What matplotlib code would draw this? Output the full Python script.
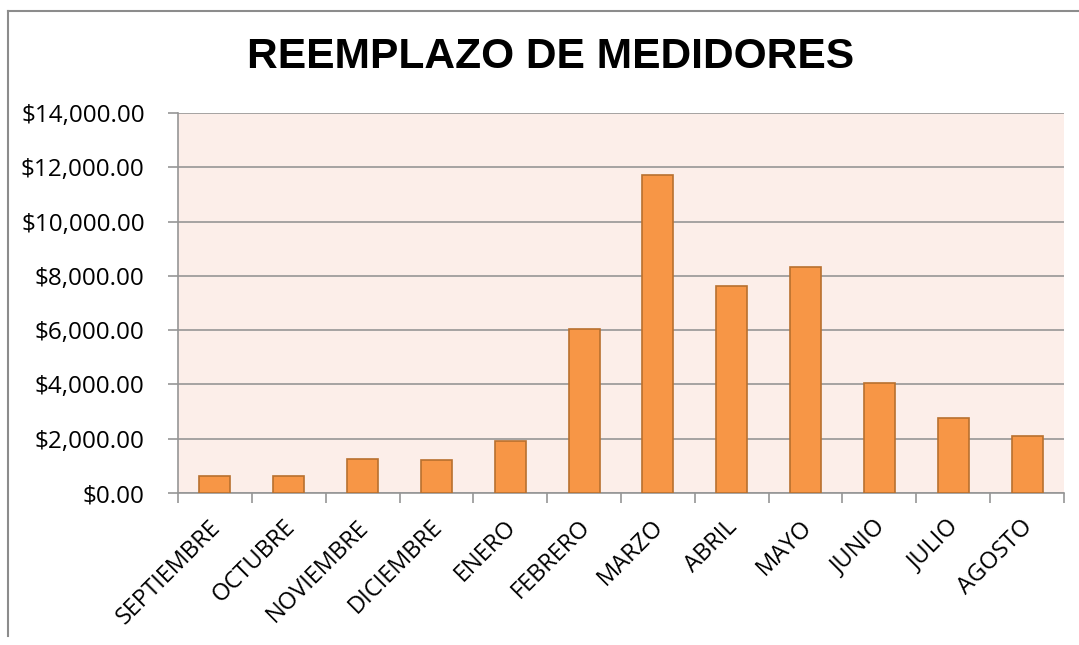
import matplotlib.pyplot as plt
import matplotlib.transforms as mtransforms
import numpy as np
from matplotlib.lines import Line2D
from matplotlib.ticker import FuncFormatter

MONTHS = ["SEPTIEMBRE", "OCTUBRE", "NOVIEMBRE", "DICIEMBRE", "ENERO", "FEBRERO",
          "MARZO", "ABRIL", "MAYO", "JUNIO", "JULIO", "AGOSTO"]
AMOUNTS = [620, 620, 1270, 1210, 1920, 6030, 11710, 7620, 8330, 4060, 2780, 2090]
Y_TICKS = [0, 2000, 4000, 6000, 8000, 10000, 12000, 14000]
TITLE = "REEMPLAZO DE MEDIDORES"

BAR_COLOR  = "#F79646"
EDGE_COLOR = "#B8702F"
BG_COLOR   = "#FCEEE9"
GRID_COLOR = "#969696"

W, H = 1079, 645
fig = plt.figure(figsize=(W / 100, H / 100), dpi=100)

# plot area in pixels: left 178, right 1064, top 113, bottom 493
ax = fig.add_axes([178 / W, 1 - 493 / H, (1064 - 178) / W, (493 - 113) / H])
ax.set_facecolor(BG_COLOR)

x = np.arange(len(MONTHS))
ax.bar(x, AMOUNTS, width=0.42, color=BAR_COLOR, edgecolor=EDGE_COLOR,
       linewidth=1.2, zorder=3)

ax.set_xlim(-0.5, len(MONTHS) - 0.5)
ax.set_ylim(0, 14000)
ax.set_yticks(Y_TICKS)
ax.yaxis.set_major_formatter(FuncFormatter(lambda v, p: f"${v:,.2f}"))
ax.grid(axis="y", color=GRID_COLOR, linewidth=1.2, zorder=1)

ax.set_xticks(x)
ax.set_xticklabels(MONTHS, rotation=45, ha="right", rotation_mode="anchor",
                   fontsize=17, family="Open Sans")
ax.set_xticks(np.arange(-0.5, len(MONTHS)), minor=True)
ax.tick_params(axis="x", which="major", length=0, pad=16)
ax.tick_params(axis="x", which="minor", length=7, color=GRID_COLOR, width=1.2)
ax.tick_params(axis="y", length=7, color=GRID_COLOR, width=1.2, pad=17,
               labelsize=17.5)
for lab in ax.get_yticklabels():
    lab.set_family("Open Sans")

# nudge month labels a little to the left
shift = mtransforms.ScaledTranslation(-6 / 100, 0, fig.dpi_scale_trans)
for lab in ax.get_xticklabels():
    lab.set_transform(lab.get_transform() + shift)

for side in ("top", "right"):
    ax.spines[side].set_visible(False)
for side in ("left", "bottom"):
    ax.spines[side].set_color(GRID_COLOR)
    ax.spines[side].set_linewidth(1.2)

fig.text(551 / W, 1 - 57 / H, TITLE, ha="center", va="center",
         fontsize=30.6, fontweight="bold", family="Liberation Sans")

# outer chart frame (top and left edges visible)
fig.add_artist(Line2D([8 / W, 1], [1 - 10.5 / H, 1 - 10.5 / H],
                      transform=fig.transFigure, color="#8c8c8c", linewidth=1.5))
fig.add_artist(Line2D([8 / W, 8 / W], [1 - 10.5 / H, 1 - 636 / H],
                      transform=fig.transFigure, color="#8c8c8c", linewidth=1.5))

fig.savefig("out.png", dpi=100)
